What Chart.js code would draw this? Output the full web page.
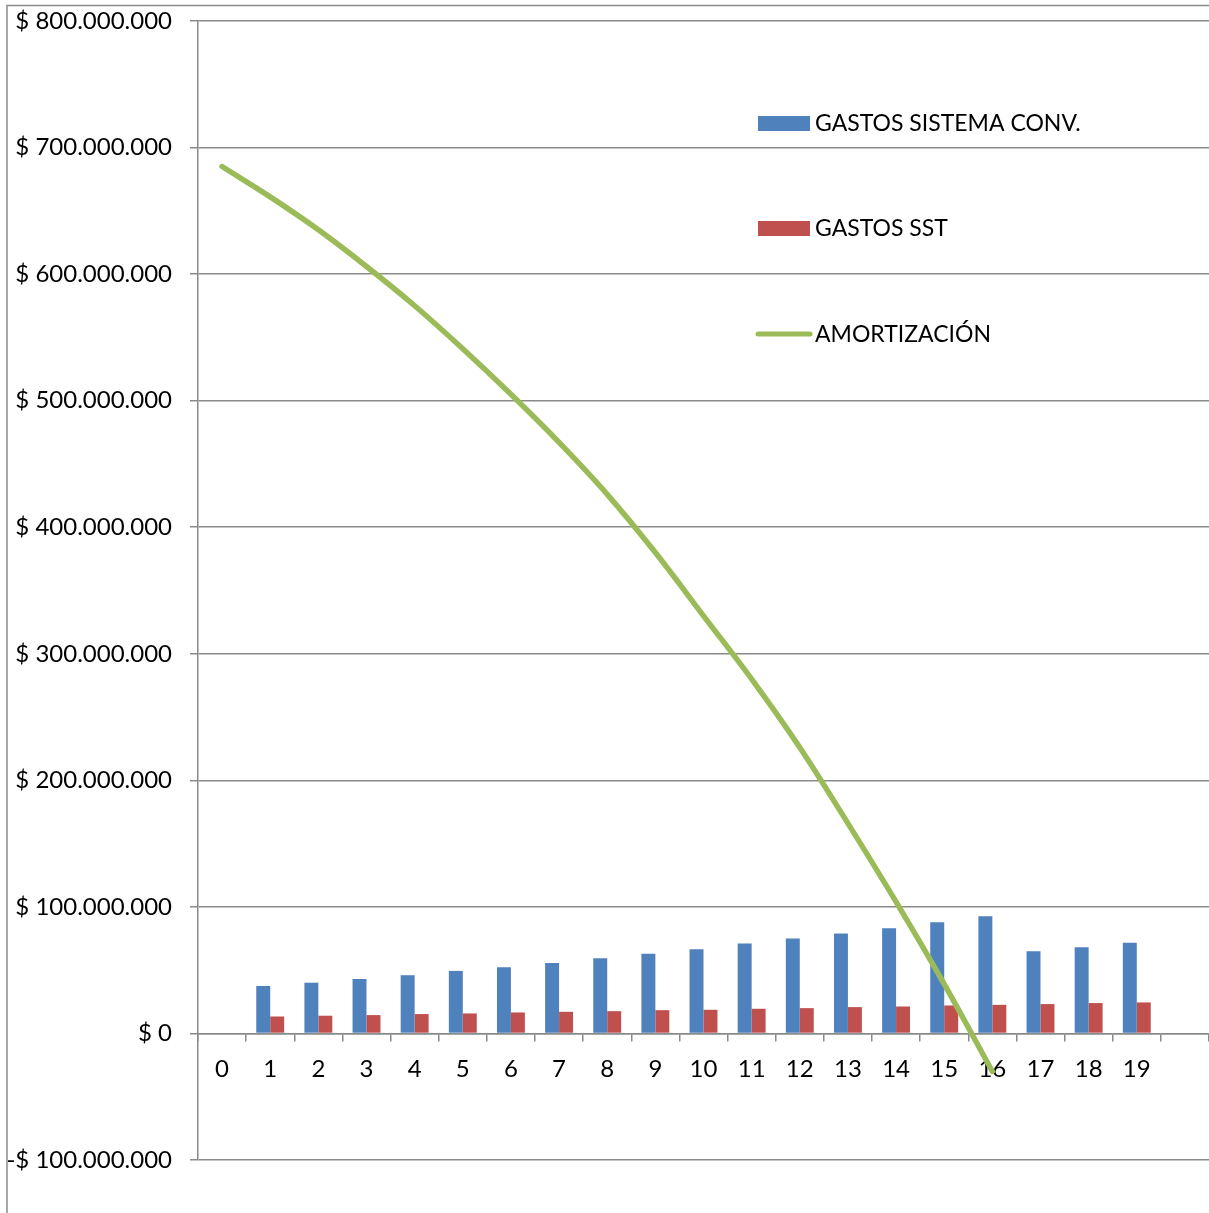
<!DOCTYPE html>
<html lang="es">
<head>
<meta charset="utf-8">
<title>Gastos y amortización</title>
<script src="https://cdn.jsdelivr.net/npm/chart.js@4.4.1/dist/chart.umd.min.js"></script>
<style>
  html, body { margin: 0; padding: 0; background: #ffffff; }
  #wrap { width: 1209px; height: 1213px; position: relative; }
</style>
</head>
<body>
<div id="wrap"><canvas id="chart" width="1209" height="1213"></canvas></div>
<script>
// Años del periodo de análisis (la última categoría queda sin rótulo)
const years = ['0', '1', '2', '3', '4', '5', '6', '7', '8', '9', '10',
               '11', '12', '13', '14', '15', '16', '17', '18', '19', ''];

// Gastos anuales del sistema convencional ($)
const gastosConv = [null, 37500000, 40100000, 43000000, 46000000, 49400000, 52300000,
                    55700000, 59400000, 63000000, 66600000, 71100000, 75000000,
                    79000000, 83200000, 87900000, 92700000, 65000000, 68200000,
                    71600000, null];

// Gastos anuales del sistema solar térmico ($)
const gastosSST = [null, 13400000, 14000000, 14500000, 15300000, 15800000, 16600000,
                   17100000, 17600000, 18400000, 18700000, 19500000, 20000000,
                   20800000, 21300000, 22100000, 22600000, 23200000, 24000000,
                   24500000, null];

// Saldo pendiente de amortizar ($)
const amortizacion = [685000000, 661000000, 635000000, 606000000, 575000000, 541000000,
                      505000000, 467000000, 426000000, 380000000, 330000000, 280000000,
                      226000000, 166000000, 104000000, 39000000, -30000000,
                      null, null, null, null];

// Rango del eje de valores
const yMin = -100000000;
const yMax = 800000000;
const yStep = 100000000;

const FONT = 'Lato, "Open Sans", "Liberation Sans", sans-serif';
const GRID = '#8a8a8a';

function pesos(v) {
  const s = String(Math.abs(Math.round(v))).replace(/\B(?=(\d{3})+(?!\d))/g, '.');
  return (v < 0 ? '-' : '') + '$ ' + s;
}

// Sin márgenes extra por los rótulos: el área de trazado la fija layout.padding
function noScalePadding(scale) {
  scale.paddingTop = 0;
  scale.paddingBottom = 0;
  scale.paddingLeft = 0;
  scale.paddingRight = 0;
}

// Marco exterior del gráfico
const frame = {
  id: 'frame',
  beforeDraw(chart) {
    const ctx = chart.ctx;
    ctx.save();
    ctx.fillStyle = '#ffffff';
    ctx.fillRect(0, 0, chart.width, chart.height);
    ctx.strokeStyle = GRID;
    ctx.lineWidth = 1.5;
    ctx.beginPath();
    ctx.moveTo(7, chart.height + 5);
    ctx.lineTo(7, 5.5);
    ctx.lineTo(chart.width + 5, 5.5);
    ctx.stroke();
    ctx.restore();
  }
};

// Leyenda dentro del área de trazado, en columna
const sideLegend = {
  id: 'sideLegend',
  afterDraw(chart) {
    const ctx = chart.ctx;
    const x0 = 758, swW = 52, textX = 815;
    const rows = [123, 228, 334];
    ctx.save();
    ctx.font = '23px ' + FONT;
    ctx.textBaseline = 'middle';
    ctx.textAlign = 'left';
    chart.data.datasets.forEach((ds, i) => {
      const y = rows[i];
      if (ds.type === 'line') {
        ctx.strokeStyle = ds.borderColor;
        ctx.lineWidth = 5;
        ctx.lineCap = 'round';
        ctx.beginPath();
        ctx.moveTo(x0, y);
        ctx.lineTo(x0 + swW, y);
        ctx.stroke();
      } else {
        ctx.fillStyle = ds.backgroundColor;
        ctx.fillRect(x0, y - 7, swW, 15);
      }
      ctx.fillStyle = '#000000';
      ctx.fillText(ds.label, textX, y + 1);
    });
    ctx.restore();
  }
};

new Chart(document.getElementById('chart'), {
  type: 'bar',
  data: {
    labels: years,
    datasets: [
      {
        label: 'GASTOS SISTEMA CONV.',
        data: gastosConv,
        backgroundColor: '#4F81BD',
        categoryPercentage: 0.58,
        barPercentage: 1.0,
        order: 1
      },
      {
        label: 'GASTOS SST',
        data: gastosSST,
        backgroundColor: '#C0504D',
        categoryPercentage: 0.58,
        barPercentage: 1.0,
        order: 1
      },
      {
        type: 'line',
        label: 'AMORTIZACIÓN',
        data: amortizacion,
        borderColor: '#9BBB59',
        backgroundColor: '#9BBB59',
        borderWidth: 5.5,
        borderCapStyle: 'round',
        pointRadius: 0,
        pointHoverRadius: 0,
        tension: 0.35,
        spanGaps: false,
        order: 0
      }
    ]
  },
  options: {
    responsive: false,
    animation: false,
    devicePixelRatio: 1,
    layout: { padding: { left: 0, top: 21, right: 0, bottom: 53 } },
    plugins: {
      legend: { display: false },
      tooltip: { enabled: false }
    },
    scales: {
      x: {
        position: { y: 0 },
        offset: true,
        grid: {
          offset: true,
          display: true,
          drawOnChartArea: false,
          drawTicks: true,
          tickLength: 7,
          color: GRID,
          lineWidth: 1.5
        },
        border: { display: true, color: GRID, width: 1.5 },
        ticks: {
          color: '#000000',
          font: { family: FONT, size: 24 },
          padding: 14,
          maxRotation: 0,
          autoSkip: false
        },
        afterFit: noScalePadding
      },
      y: {
        min: yMin,
        max: yMax,
        grid: {
          color: GRID,
          lineWidth: 1.5,
          drawTicks: true,
          tickLength: 8
        },
        border: { display: true, color: GRID, width: 1.5 },
        ticks: {
          stepSize: yStep,
          color: '#000000',
          font: { family: FONT, size: 24 },
          padding: 18,
          callback: (v) => pesos(v)
        },
        afterFit(scale) {
          scale.width = 198;
          noScalePadding(scale);
        }
      }
    }
  },
  plugins: [frame, sideLegend]
});
</script>
</body>
</html>
